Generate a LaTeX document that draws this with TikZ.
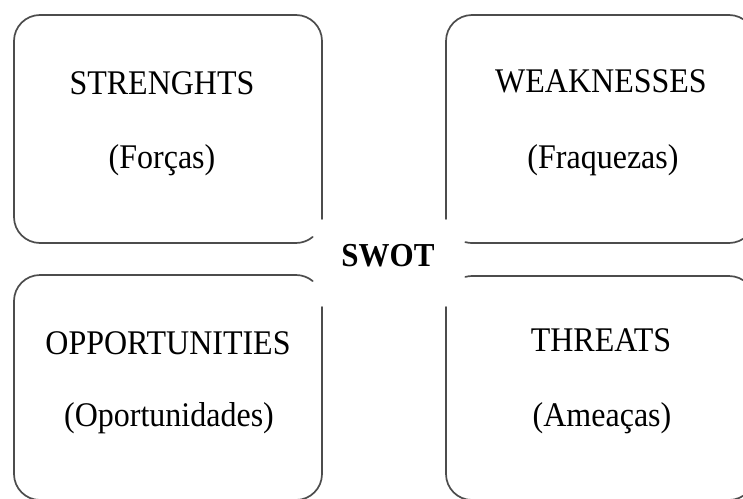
\documentclass[tikz,border=0pt]{standalone}
\usepackage{graphicx}
\usepackage{fontspec}
\setmainfont{Liberation Serif}
\newcommand\vstretch[1]{\scalebox{1}[1.08]{#1}}
\begin{document}
\begin{tikzpicture}[x=1pt,y=1pt,
  boxline/.style={draw=black!70, line width=1.7pt, line cap=round, line join=round},
  lbl/.style={anchor=base, inner sep=0pt, font=\fontsize{32}{38}\selectfont},
  ttl/.style={anchor=base, inner sep=0pt, font=\fontsize{31}{37}\selectfont\bfseries}]
\useasboundingbox (0,0) rectangle (743,-498);
\begin{scope}
\clip (0,0) rectangle (743,-498);
% Strengths box (gap at lower right corner)
\draw[boxline] (322,-219) -- (322,-41) arc[start angle=0,end angle=90,radius=26]
  -- (40,-15) arc[start angle=90,end angle=180,radius=26]
  -- (14,-217) arc[start angle=180,end angle=270,radius=26]
  -- (296,-243) arc[start angle=270,end angle=310,radius=26];
% Weaknesses box (gap at lower left corner)
\draw[boxline] (446,-219) -- (446,-41) arc[start angle=180,end angle=90,radius=26]
  -- (729,-15) arc[start angle=90,end angle=0,radius=26]
  -- (755,-217) arc[start angle=0,end angle=-90,radius=26]
  -- (472,-243) arc[start angle=270,end angle=255,radius=26];
% Opportunities box (gap at upper right corner)
\draw[boxline] (322,-307) -- (322,-474) arc[start angle=0,end angle=-90,radius=26]
  -- (40,-500) arc[start angle=270,end angle=180,radius=26]
  -- (14,-301) arc[start angle=180,end angle=90,radius=26]
  -- (296,-275) arc[start angle=90,end angle=50,radius=26];
% Threats box (gap at upper left corner)
\draw[boxline] (465.3,-276.9) arc[start angle=105,end angle=90,radius=26]
  -- (729,-276) arc[start angle=90,end angle=0,radius=26]
  -- (755,-474) arc[start angle=0,end angle=-90,radius=26]
  -- (472,-500) arc[start angle=270,end angle=180,radius=26]
  -- (446,-307);
\end{scope}
\node[lbl] (str) at (162,-94) {\vstretch{STRENGHTS}};
\node[lbl] (for) at (162,-168) {\vstretch{(Forças)}};
\node[lbl] (wea) at (601,-92) {\vstretch{WEAKNESSES}};
\node[lbl] (fra) at (603,-168) {\vstretch{(Fraquezas)}};
\node[lbl] (opp) at (168,-354) {\vstretch{OPPORTUNITIES}};
\node[lbl] (opo) at (169,-426) {\vstretch{(Oportunidades)}};
\node[lbl] (thr) at (601,-351) {\vstretch{THREATS}};
\node[lbl] (ame) at (602,-426) {\vstretch{(Ameaças)}};
\node[ttl] (swot) at (388,-266) {\vstretch{SWOT}};
\end{tikzpicture}
\end{document}
